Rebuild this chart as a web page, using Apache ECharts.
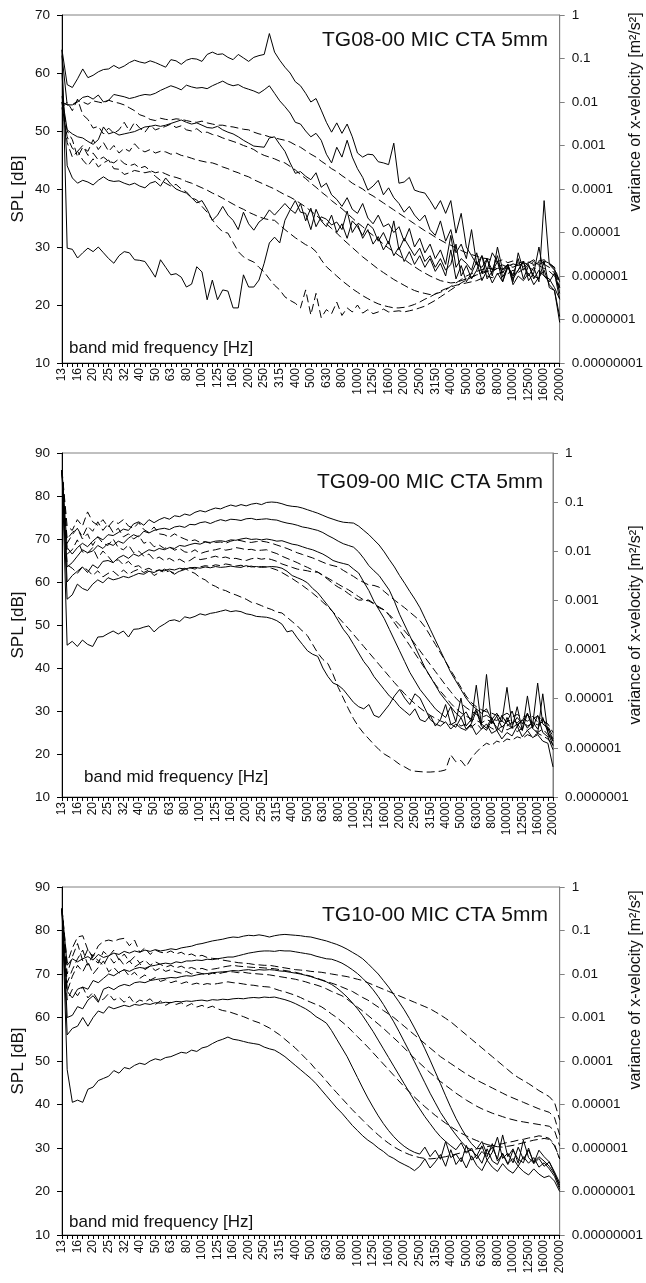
<!DOCTYPE html>
<html><head><meta charset="utf-8">
<script src="https://cdn.jsdelivr.net/npm/echarts/dist/echarts.min.js"></script>
<style>html,body{margin:0;padding:0;background:#fff}#c{width:646px;height:1283px}</style>
</head><body><div id="c"></div>
<script>
const bandLabels = ['13','16','20','25','32','40','50','63','80','100','125','160','200','250','315','400','500','630','800','1000','1250','1600','2000','2500','3150','4000','5000','6300','8000','10000','12500','16000','20000'];
const panelTitles = ['TG08-00 MIC CTA 5mm','TG09-00 MIC CTA 5mm','TG10-00 MIC CTA 5mm'];
const leftName = 'SPL [dB]';
const rightName = 'variance of x-velocity [m\u00B2/s\u00B2]';
const xName = 'band mid frequency [Hz]';

// ---------- Panel 1 (TG08) : SPL scale 10..70 ----------
const p1s1 = [64,58,57.5,59,60.7,59.2,59.6,60.2,60.6,60.7, 61.3,60.8,61.2,61.8,62.2,61.9,61.7,62.1,61.8,61.4, 61,62.3,62.1,61.5,62.2,62.5,62.4,62,63.2,63.6, 63.2,63.3,62.7,62.3,63.2,62.6,62,62.7,63,63.2, 66.8,63.6,62.2,61,60,58.5,57.8,56.5,55,55.6, 53.6,51.5,49.8,51.4,49.6,51.2,49,46.2,45.5,46, 45.9,44.7,44.5,44.2,47.9,41,41.2,42,39.8,39.5, 39.3,38,36.5,38,35.8,38,32.4,35.8,30,28.5, 27,28.5,26,29,27.5,25.5,27,24.5,26,27.5, 25,26.5,24,38,27,26,22];
const p1s2 = [63,54.5,54.5,55,55.8,56,55.5,56.2,55,55.3, 56.3,56.1,55.9,55.6,55.8,56.1,56.3,56.2,56.5,57, 57.4,57.8,57.5,57.1,57.9,57.6,57.4,57.5,57.3,57.8, 58.2,58.6,58.1,57.8,58,57.5,57.2,56.9,56.5,57.1, 57.8,56.5,55.2,54.2,53.1,51.5,51.2,50,49,49.6, 48.4,46,44.5,47.2,45.5,48.4,45.5,43.5,42,39.8, 40.5,41.5,39,40.2,38.5,37.5,36,37,35.5,34.5, 35.5,33,32,34.5,31,33,29,30.5,28,33, 27,26.5,28,25,30,26,27,24,29,26, 27,24.5,26,25,24,25.5,21];
const p1s3 = [56,50.2,49.5,49,48.8,48.2,47.7,48.5,50.7,49.5, 49.8,49.3,49.5,49.7,49.9,50.3,50.7,50.8,51,50.8, 51,51.3,51.6,51.9,51.5,51.2,51.4,51,50.6,50.5, 50.8,50.2,49.8,49.5,49,48.4,47.9,47.4,47.3,47.2, 48.8,49,47.7,46.5,44.5,42.7,43,42.2,41.6,42.8, 40.3,41,39,38.2,37,38.5,36.5,35.8,37.5,35, 34,35.5,33.5,34,32.5,33.5,31,33.2,30,31.5, 29,30.5,28,29.5,27,32,26.5,28,27.2,26, 29,25.5,27.8,26,28.5,24.8,26.5,25.2,28,24.5, 26.8,25,24.5,27.5,23,22.5,17];
const p1s4 = [60,44,41.9,41,41.5,41.2,40.7,41.5,42.1,41.5, 41.3,41.4,41,40.7,41,40.5,40.2,41,41.3,40.5, 41.9,40.8,40,39.6,39.3,38.5,37.6,38,36.5,34.6, 35.5,37,35.5,34.6,33,36,34,32.9,34.3,35, 36.4,35.5,36.5,37.5,36.5,35.8,37.5,34.5,36.7,33.5, 35.2,34.8,33.8,34.3,33,36.2,32.5,34,31.5,33, 30.5,31.8,29.5,31,28.5,30,27.5,29.2,27,28.5, 26.5,28,25.8,27.2,25,29.5,24.5,26.8,24,25.5, 27.5,24.2,26,23.8,25.5,24,27,23.5,25,24.2, 25.5,23.5,24.8,26,23.5,22.5,18];
const p1s5 = [64,29.8,29.6,28.1,29,29.8,29.2,30,29,28, 27.2,28.5,29.2,29,27.8,27.7,27.5,26.2,24.8,27.8, 26.5,25.2,25.4,24.8,23.1,23.6,26.6,25.7,20.9,24.3, 20.9,22.6,22.4,19.5,19.5,25.2,23.1,23.1,24.3,27.2, 30.7,31.7,30.7,34.6,36.4,38,36,35.8,33,36.5, 34.5,33.5,35.5,32.5,34,31.5,34.5,33.5,32,34, 33.2,31,32.5,30.5,34.5,29.5,31.5,30,28.5,29.8, 27.5,28.5,26.5,28,26,27,30.5,25,26.8,24.5, 26,28.5,24.5,25.8,27.5,24,26.5,25,26,27.5, 24.2,25.5,30,25,24.5,23,21];
const p1d1 = [55,54.5,54.5,55.2,55,54.6,55.2,55,54.8,55.3, 55,54.8,54.5,54,53.5,52.8,52.5,52,51.8,52.2, 52,51.9,52.1,52,51.8,51.6,51.5,51.7,51.4,51.2, 51,51,50.8,50.7,50.5,50.3,50.2,49.8,49.5,49.3, 49,48.8,48.6,48.4,48.1,47.6,47.2,46.6,46,45.5, 44.8,44.2,43.5,43,42.3,41.7,41,40.5,40,39.3, 38.8,38.2,37.6,37,36.4,35.8,35.2,34.6,34,33.4, 32.8,32.3,31.7,31.2,30.7,30.3,29.8,29.4,29,28.7, 28.4,28.1,28,27.7,27.5,27.8,27.3,27.6,27.2,27.5, 27.3,27.8,27,27.4,27.1,26.5,24];
const p1d2 = [54,55,53.5,55.5,52.8,52,50.5,50.8,49.5,50.5, 49.6,50.2,51.5,50,51.5,50.5,49.8,51,50.2,50.5, 50.8,51.2,50.6,50.9,50.2,50,50.4,49.7,49.8,49.4, 49.2,48.8,48.5,48.2,47.9,47.5,47.2,46.8,46.2,45.8, 45.5,45.2,44.8,44.5,43.9,43.3,42.5,41.8,41,40.3, 39.5,38.8,38,37.3,36.6,35.8,35,34.2,33.5,32.7, 32,31.3,30.5,29.8,29.2,28.5,27.9,27.2,26.6,26, 25.5,25,24.6,24.2,24,23.8,23.9,24.2,24.5,24.8, 25.2,25.4,25.8,26,26.3,26.5,26.8,27,26.8,27.2, 27.4,27,27.6,27.8,27.2,26.5,23];
const p1d3 = [55,50,48.5,45.5,47.2,46.5,48.5,46.8,48,46.5, 47.5,46.2,47,46.5,47.8,46.8,46.4,46.8,46.2,46.5, 46.4,46,46.2,45.8,45.6,45.3,45,44.8,44.6,44.5, 44.2,43.8,43.5,43.1,42.8,42.4,42.1,41.6,41.2,40.8, 40.4,40,39.5,39,38.6,38.1,37.5,36.9,36.2,35.5, 34.7,34,33.2,32.4,31.5,30.7,29.9,29.1,28.3,27.6, 26.9,26.2,25.6,25,24.4,23.9,23.4,22.9,22.5,22.2, 22,21.8,21.9,22.2,22.6,23.2,23.8,24.4,25,25.4, 25.8,26.1,26.4,26.2,26.6,26.9,26.5,27.1,26.8,27.3, 27,27.5,26.9,27.6,27.2,26.2,24];
const p1d4 = [55,48,45.5,46.5,45,44,45.2,43.8,44.5,45, 43.5,43.4,42.5,42.8,43.2,43,42.8,43,42.2,41.5, 41,40.5,40.8,40,39.5,38.5,38.1,37,36,34.7, 33.5,32.6,32.4,30.8,29.2,28.3,27.8,27.4,26.5,25.7, 24.5,23.4,22.6,21.4,20.8,20.3,19.5,22.6,18.3,22, 17.8,19.2,18.5,20.5,18.2,19.5,18.8,20,18.6,19.2, 18.5,18.8,19.3,18.8,18.9,19,18.8,19,19.2,19.5, 19.8,20.3,20.8,21.4,22,22.6,23.2,23.8,24.3,24.8, 25.2,25.6,26,25.7,26.4,26.2,26.8,26.5,27,26.6, 27.2,26.8,27.4,27,26.5,25.5,23];
const p1d5 = [54,49,47,46.5,47.5,45.8,46.2,45,45.5,44.8, 44.5,45.2,44.4,44,44.3,43.6,43.9,43.2,42.8,43, 42.6,42.2,42,41.7,41.3,41,40.6,40.2,39.8,39.3, 38.9,38.4,37.9,37.4,36.9,36.5,36,35.6,35.2,34.9, 34.7,34.6,33.8,33,32.3,31.6,31,30.4,30,29.2, 27.8,26.6,25.8,25,24.2,23.5,22.8,22.2,21.6,21.1, 20.6,20.2,19.9,19.7,19.5,19.5,19.6,19.8,20.1,20.5, 21,21.4,21.9,22.4,22.8,23.1,23.4,23.6,23.8,24, 24.2,24.6,25,24.7,25.3,25.8,25.4,26,25.6,26.2, 26.5,26,26.8,26.3,25.8,25,22.5];

// ---------- Panel 2 (TG09) : SPL scale 10..90 ----------
const p2s1 = [86,68,66.5,68,69,68.2,69.5,70.5,69.8,71, 70.8,71.5,72.3,72,73.5,74,73.2,74.5,73.8,74.5, 75,74.6,75.4,75.2,75.8,75.5,76.2,76.6,76.3,76.8, 77.2,77,77.5,77.9,77.6,78,77.7,78.1,78.3,78, 78.5,78.6,78.5,78.2,77.8,77.6,77.5,77.2,76.8,76.4, 76,75.5,75,74.6,74.2,73.9,73.8,73.7,73,72, 71,69.8,68.6,67,65.2,63.5,61.5,59.7,57.8,56, 54,51.5,49,46.5,44,41.5,39,37,35,33, 31.5,30.5,29.5,30.5,28,29.5,27.5,35.5,26.8,28.5, 27,29.5,26.5,36.5,27,26,23];
const p2s2 = [86,63.5,64.5,66,67.5,66.8,67.2,68.5,67.8,69, 68.5,69.5,69,70.2,71,70.5,71.8,71.4,72,72.3, 72.5,72.2,72.8,73,72.7,73.4,73.3,73.8,74,73.6, 74.1,74.5,74.2,74.6,74.5,74.3,74.7,74.8,74.5,74.6, 74.7,74.5,74.4,74,73.7,73.5,73.2,72.8,72.6,72.3, 72,71.5,70.8,70.2,69.5,68.9,68.5,68.1,67,65.5, 63.8,62.6,61.5,59.8,58.1,55.5,52.5,50,47.5,45, 42.5,40,38,36,34,32.5,31,29.5,28.5,29.8, 27.5,36,26.8,38.5,27,28.8,26.2,27.5,30,26.5, 28,26,27.5,25.8,28.5,25,22];
const p2s3 = [86,60,61.5,62.5,63.5,62.2,64,63.2,64.8,65, 64.5,65.6,66.2,65.5,66.5,66,66.8,67.5,67.2,67.8, 67.5,68,67.8,68.5,68.3,68.7,69,68.8,69.3,69.2, 69.5,69.6,69.4,69.8,69.7,70,70.2,69.9,70,69.8, 70,69.8,69.5,69.6,69.2,68.8,68.6,68.2,67.8,67.5, 67,66.5,65.8,65,64.6,64.3,64,63,62.1,60, 58,55.5,53.5,51.5,49,46.5,44,41.5,39,37, 35,33.5,32,30.5,29.5,28.5,31,27.5,33,26.5, 28,30.5,27,26,28.5,25.5,29,27,26,31, 25.5,33.5,26,29,25,24,21];
const p2s4 = [86,56,57,59.5,58.5,58,59.5,60.5,59.8,61, 60.5,60.8,61.3,61,61.5,62,61.8,62.5,62.2,62.8, 62.6,63,62.8,63.2,63,63.3,63.4,63.2,63.5,63.3, 63.6,63.4,63.5,63.7,63.5,63.4,63.8,63.5,63.6,63.4, 63.5,63.6,63.5,63.2,62.5,61.5,61,60.5,59.8,58.5, 57.5,56,54.5,53,51,49,47.5,45.5,43.5,41.5, 40,38,36.5,35,33.5,32.5,31,30,29,30.5, 28,27.5,29,26.5,28,31.5,27,26.2,28.5,25.8, 27,30,26.5,25.5,27.8,26.2,25,28.5,26,27, 25.5,29.5,26,24.8,34,25,23];
const p2s5 = [86,45.3,46.2,45,46.5,45.5,45,47.2,47.3,48, 48.6,47.9,48.6,47.2,49,49.1,49.5,49.8,48.4,49.5, 50.2,51,51.2,50.8,51.9,51.6,52,52.6,52.3,52.7, 52.9,53.2,53.5,53.1,53.3,53.1,52.6,52.4,52,51.9, 51.8,51.5,51,50.2,48.4,48.7,47,45.5,44,43.2, 42.7,40,38,36.5,36,35,33.5,32,31,30.5, 31.5,29,28.5,30,31.5,33.5,35,33,31.5,34, 33,30.5,28,27,26.5,27.5,25.8,27,26,25.5, 26.8,24.5,25.8,27,24.8,25.5,23.5,25,24.2,26.5, 24,25.5,23.8,24.5,23,22.5,17];
const p2d1 = [86,73,72,74.5,73,76.3,74,73.2,74.5,72.8, 74.2,73.6,74.5,73,72.5,73.8,72.2,71.5,72.8,71.2, 71,70.4,71.2,70.5,70,69.5,69.8,69.2,69.4,69, 69.2,69.3,69,69.5,69.8,69.6,69.3,69.2,69.4,69.5, 69.3,69,68.6,68.2,67.8,67.3,66.8,66.4,66,65.6, 65.1,64.6,64.1,63.8,63.5,62.7,62,61.3,60.5,59.9, 59.3,59.2,58.8,57.8,56.8,55.8,54.9,54,53,52, 51,49.5,47.5,45.5,43.5,41.5,39.5,37.5,35.5,33.5, 32,31,30.3,29.8,29.5,29,28.8,29.5,28.6,29.2, 28.5,29,28.2,28.8,27.8,27,25];
const p2d2 = [86,70,71.5,72.5,70.5,73,71.8,74,72,73.5, 71.5,72.5,70.5,71.2,70,70.8,69,69.5,68.2,68.6, 67.8,68.2,67.4,67.8,67,66.8,67.5,66.6,67,67.3, 67.5,67.8,67.4,67.6,68,67.8,67.5,67.6,67.3,67.4, 67.5,67,66.6,66,65.5,65,64.5,63.9,63.4,62.8, 62.3,61.6,60.9,60.2,59.5,58.8,58.2,57.4,56.6,55.8, 55.8,55,54.2,53.5,52.4,51.2,50,48.6,47.2,45.6, 44,42.4,40.8,39.2,37.6,36,34.5,33,31.8,30.8, 30,29.2,28.5,29,28.2,27.8,28.6,27.5,28,27.2, 28.4,27.6,28.8,27.4,28,26.5,24];
const p2d3 = [86,69,71,72.5,70,71.2,68.5,70.5,69,68.5, 70,68,67.5,68.6,66.8,67.2,66,66.5,65.2,65.8, 65,65.5,64.8,65.3,64.6,65,65.8,65.2,65.4,65.7, 66,65.6,65.8,65.4,65.5,65.2,65,65.4,65.6,65.3, 65.5,65.2,64.8,64.2,63.8,63.4,63,62.8,62.6,62.3, 62.3,61.5,60.6,59.6,58.8,58.2,57.3,56.5,55.8,55.8, 55.6,54.9,54,53.5,52.2,50.5,48.8,47,45.2,43.4, 41.6,39.8,38,36.2,34.6,33.2,31.8,30.6,29.6,28.8, 28.2,27.8,27.2,28,27.5,26.8,27.8,26.5,27.4,26.8, 27.8,26.5,27.2,26.8,27.5,26,23.5];
const p2d4 = [86,66.5,67.5,69.8,67,66.7,68,65.5,67.2,66, 64.5,65.2,64,64.8,63.5,63.8,62.8,63.2,62.5,62.8, 62.2,62.6,62,62.5,62.9,63.3,63,63.5,63.8,63.6, 64,63.8,64.2,64,63.7,63.9,63.5,63.7,63.4,63.6, 63.5,63.2,62.8,62.2,61.5,60.8,60,59.2,58.3,57.4, 56.4,55.3,54.2,53,51.8,50.5,49.2,47.8,46.4,45, 43.6,42.2,40.8,39.4,38,36.6,35.3,34,32.8,31.7, 30.7,29.8,29,28.3,27.7,27.2,26.8,27.5,26.5,27, 26.2,27.2,25.8,26.8,26,25.4,26.5,25.6,26.2,25.2, 26,25.5,26.4,25,25.8,24.5,22];
const p2d5 = [86,64,63.2,62,63.5,62.8,61.5,62.6,61.2,62, 62.5,61.5,62.8,61.8,62.5,63,62.2,62.8,61.5,62.2, 63,62.5,61.8,62.6,63.2,62.5,62,61,60.5,59.5, 59,58.3,58,57.4,57,56.5,56,55.3,55,54.5, 54,53.6,53,52.8,51.8,50.8,49.8,48.6,47.5,45.5, 43.5,42,41,38.5,35.5,33,30.5,28.2,26.3,24.8, 23.5,22.2,21,20,19.3,18.5,17.6,17,16.3,16, 15.9,15.8,15.8,15.9,16,16.3,19.8,18.2,18.5,17, 19,20.4,21.6,22.5,22,23,22.6,23.5,23.2,24, 23.6,24.5,24,24.8,24.2,23.5,22];

// ---------- Panel 3 (TG10) : SPL scale 10..90 ----------
const p3s1 = [85,72,73.5,72.8,73.5,74,73.2,74.5,73.8,74.2, 74.8,74.5,75.2,74.8,75.3,75,75.5,75.2,75.6,75.3, 75.5,75.8,75.6,76,76.2,76.4,76.8,77,77.3,77.6, 77.8,78,78.3,78.5,78.4,78.7,78.9,78.8,79,78.8, 78.5,78.8,79,79.1,79,78.9,78.8,78.6,78.5,78.2, 77.9,77.6,77.2,76.8,76.3,75.7,75,74.3,73.5,72.4, 71.2,70,68.5,67,65.3,63.6,61.8,59.8,57.6,55.3, 52.8,50.2,47.5,44.8,42,39.3,36.8,34.6,32.6,31, 29.8,31.5,28.5,30.2,27.5,33,28,29.8,26.5,31.8, 27.8,26.5,29.5,28,26.8,24.5,22];
const p3s2 = [85,66,64.5,66.5,67,66.5,68.5,68,69,70, 69.6,70.4,71,70.6,71.2,71.5,71.3,71.8,72,72.3, 72.5,72.3,72.8,72.6,73,73,73.2,73.1,73.4,73.3, 73.5,73.7,73.9,73.9,74.2,74.5,74.8,75,75.2,75.3, 75.3,75.2,75.4,75.3,75.3,75.1,74.9,74.7,74.5,74.1, 73.8,73.5,73.4,73,72.5,71.8,71,70.1,69,67.8, 66.4,64.8,63,61,59,56.8,54.5,52.2,49.8,47.4, 45,42.6,40.4,38.2,36.4,34.6,33,31.5,30.2,29.5, 28.2,30.5,27.2,29,32.5,27.6,28.8,26.6,30.2,27.4, 29.5,26.8,28,27,25.8,24,21.5];
const p3s3 = [85,60,60.5,62.5,62,64,65,63.5,66.5,67, 66.4,67.2,67.6,67.3,68,68.2,68,68.5,68.7,68.9, 69,69.2,69.1,69.4,69.6,69.5,69.8,70,70.1,70.3, 70.4,70.5,70.6,70.8,70.7,70.9,71,70.8,71,70.9, 71,70.9,70.7,70.6,70.4,70.2,70,69.7,69.4,69, 68.6,68.2,67.6,66.8,65.8,64.7,63.4,62,60.4,58.6, 56.8,54.8,52.8,50.8,48.8,46.8,44.8,42.8,40.8,39, 37.2,35.6,34,32.6,31.5,30.5,29.6,31.2,28.8,30, 27.5,29.2,28,31,27,28.6,26.2,29.5,27.4,26.6, 30,26.4,27.6,25.8,26.8,24.2,21];
const p3s4 = [85,56,57.5,58,60,58,60,61.5,61,62.5, 62,62.4,62.8,62.5,63,62.8,63.2,63,63.4,63.3, 63.5,63.4,63.7,63.6,63.8,63.7,63.9,64,63.8,64.1, 64,64.2,64.1,64.3,64.4,64.3,64.5,64.6,64.5,64.7, 64.6,64.7,64.4,64.1,63.7,63.2,62.6,62,61.2,60.2, 59.5,58.7,57,55,53,51,48.6,46.2,43.8,41.5, 39.4,37.4,35.6,34,32.6,31.4,30.4,29.6,29,28.6, 30.2,28,29.5,27.4,31.5,27.8,28.6,26.8,30.6,27.2, 28.4,26.5,29.8,27,26.2,28.8,26.4,27.6,25.8,28, 26.5,27.8,25.6,26.6,25.2,23.5,20.5];
const p3s5 = [85,48,40.5,41,40.5,43.5,44,45.5,46,46.5, 47.8,47.2,48.5,48.2,49,49.5,49.2,50,50.5,50.2, 50.8,51,51.5,52,51.8,52.5,52.2,53,53.3,54, 54.6,55,55.5,55,54.8,54.5,54.2,54,53.8,53.2, 52.8,52.5,51.8,51,50,49,48,47,46,44.8, 43.4,42,40.6,39.2,38,36.6,35.2,34,32.8,31.8, 31,30,29.2,28.2,27.6,26.8,26.2,25.6,24.8,25.8, 27.5,25.4,26.8,28.5,25.8,29.6,26.2,27.8,25.4,28.2, 26,24.8,27.2,25.6,24.6,26.4,25,24.2,25.8,24.6, 23.8,25.2,24,23.2,23.6,22.4,20];
const p3d1 = [85,72.5,76,78.5,78.8,75.5,74,76.5,77.5,77.8, 77.5,78,78.2,76.5,77.8,75,76,74.5,75.5,75, 74.8,75.3,74.6,75,74.3,74.6,74,74.3,73.8,73.6, 73.5,73.2,73,72.8,72.6,72.5,72.4,72.2,72.1,72, 72,71.8,71.6,71.4,71.2,71,70.9,70.8,70.6,70.5, 70.4,70.2,70,69.8,69.6,69.4,69.1,68.8,68.5,68, 67.5,67,66.5,66,65.5,65,64.5,64,63.5,63, 62.5,62,61.3,60.6,59.8,59,58,57,56,55, 54,53,52,51,50,49,48,47,46.2,45.5, 44.8,44,43.2,42.5,41.8,40.5,36.5];
const p3d2 = [85,70,74,77,73,75.8,73.5,72.5,75.2,74, 75.5,73.2,74.6,72.8,74,72.5,73.2,72,72.8,72.2, 71.6,72,71.4,71.8,71.2,71.5,71,71.3,70.9,71.1, 71.3,71.6,71.8,72,71.8,71.7,71.6,71.5,71.5,71.4, 71.3,71.2,71,70.8,70.6,70.4,70.1,69.8,69.5,69.1, 68.7,68.3,67.9,67.5,67,66.5,66,65.3,64.6,64, 63.2,62.4,61.6,60.8,60,59,58,57,56,55, 54,53,52,51,50.2,49.4,48.6,47.8,47,46.3, 45.6,45,44.4,43.8,43.2,42.6,42,41.5,41,40.5, 40,39.5,39,38.6,38.2,37,33];
const p3d3 = [85,68,71,73.5,75.5,72,74.5,73,72,74.2, 72.5,73.6,72,73,71.6,72.4,71,71.8,70.8,71.4, 70.6,71,70.5,70.2,70.6,70,70.4,70.1,69.8,70.2, 70,70.3,70.5,70.5,70.3,70.4,70.2,70.1,70,69.9, 69.8,69.6,69.4,69.2,69,68.8,68.5,68.2,67.8,67.5, 67.1,66.6,66,65.5,65,64.2,63.3,62.4,61.5,60.5, 59.5,58.5,57.5,56.4,55.3,54.2,53,51.8,50.6,49.5, 48.4,47.3,46.3,45.3,44.4,43.5,42.6,41.8,41,40.3, 39.6,39,38.5,38,37.6,37.2,36.8,36.5,36.2,36, 35.8,35.6,35.4,35.2,35,34,30.5];
const p3d4 = [85,66,69.5,72,70.5,72.8,70,71.5,73,70.5, 71.5,70.2,71,69.5,70.4,69,69.8,68.6,69.2,68.3, 68.7,68,68.4,67.8,68.2,67.6,67.9,67.5,67.8,67.6, 67.8,68,68.2,68,67.9,67.7,67.5,67.4,67.2,67.1, 67,66.6,66.2,65.9,65.5,65.1,64.6,64,63.5,63, 62.5,61.7,60.8,60,59,58,56.8,55.6,54.4,53.2, 51.9,50.6,49.3,48,46.7,45.4,44.1,42.9,41.7,40.6, 39.5,38.5,37.5,36.6,35.7,34.9,34.1,33.4,32.8,32.2, 31.7,31.2,30.8,30.5,30.3,30.2,30.4,30.6,30.9,31.2, 31.5,31.8,32,32.2,32,30.5,27.5];
const p3d5 = [85,64,66.5,65,67,64.5,65.8,63.8,64.2,65.5, 64,64.6,63.5,64.8,63.2,64,63.6,64.3,63,63.8, 62.8,63.5,63,63.4,62.6,63.2,62.4,62.8,62.2,62.6, 62,61.6,61.4,61,60.6,60.2,59.7,59.2,58.8,58.2, 57.6,56.8,56,55,54,53,51.8,50.6,49.4,48, 46.8,45.4,44,42.7,41.4,40.1,38.8,37.6,36.4,35.2, 34.1,33,32,31.1,30.3,29.6,29,28.5,28.1,27.8, 27.6,27.5,27.6,27.8,28,28.3,28.6,28.9,29.2,29.5, 29.8,30,30.3,30.5,30.8,31,31.3,31.5,31.8,32, 32.3,32.5,32.8,32.6,32.2,30.8,27.5];

const FONT = '"Liberation Sans", Arial, Helvetica, sans-serif';
const panels = [
  {solid:[p1s1,p1s2,p1s3,p1s4,p1s5], dashed:[p1d1,p1d2,p1d3,p1d4,p1d5], yMin:10, yMax:70, logMin:1e-8},
  {solid:[p2s1,p2s2,p2s3,p2s4,p2s5], dashed:[p2d1,p2d2,p2d3,p2d4,p2d5], yMin:10, yMax:90, logMin:1e-7},
  {solid:[p3s1,p3s2,p3s3,p3s4,p3s5], dashed:[p3d1,p3d2,p3d3,p3d4,p3d5], yMin:10, yMax:90, logMin:1e-8}
];
const layout = [
  {left:62, top:15, width:498, height:348, titleX:548, titleY:40, bandX:69, bandY:348, splY:189, varY:112},
  {left:62, top:453, width:491, height:344, titleX:543, titleY:482, bandX:84, bandY:777, splY:625, varY:625},
  {left:62, top:887, width:498, height:348, titleX:548, titleY:915, bandX:69, bandY:1222, splY:1061, varY:990}
];

const cats = [];
bandLabels.forEach((b, k) => { cats.push(b); if (k < bandLabels.length - 1) { cats.push(b + '\u2009a'); cats.push(b + '\u2009b'); } });

function logFmt(v) {
  const e = Math.round(Math.log10(v));
  if (e >= 0) return '1';
  return '0.' + '0'.repeat(-e - 1) + '1';
}

const grid = [], xAxis = [], yAxis = [], series = [], graphic = [];
panels.forEach((p, k) => {
  const L = layout[k];
  grid.push({left:L.left, top:L.top, width:L.width, height:L.height, show:true, borderColor:'#808080', borderWidth:1, backgroundColor:'transparent'});
  xAxis.push({type:'category', gridIndex:k, data:cats, boundaryGap:false,
    axisLine:{show:true, lineStyle:{color:'#000', width:1}},
    axisTick:{show:true, interval:0, length:4, lineStyle:{color:'#000'}},
    axisLabel:{interval:2, rotate:90, fontSize:12, margin:5, color:'#111', fontFamily:FONT},
    splitLine:{show:false}});
  yAxis.push({type:'value', gridIndex:k, min:p.yMin, max:p.yMax, interval:10, position:'left',
    axisLine:{show:true, lineStyle:{color:'#000', width:1}},
    axisTick:{show:true, length:5, lineStyle:{color:'#000'}},
    axisLabel:{fontSize:13.5, color:'#111', margin:12, fontFamily:FONT},
    splitLine:{show:false}});
  yAxis.push({type:'log', logBase:10, gridIndex:k, min:p.logMin, max:1, position:'right', splitNumber: Math.round(-Math.log10(p.logMin)),
    axisLine:{show:true, lineStyle:{color:'#808080', width:1}},
    axisTick:{show:true, length:5, lineStyle:{color:'#808080'}},
    axisLabel:{fontSize:13.5, color:'#111', margin:12, fontFamily:FONT, formatter:logFmt},
    splitLine:{show:false}, minorTick:{show:false}});
  p.dashed.forEach(d => series.push({type:'line', xAxisIndex:k, yAxisIndex:2*k, data:d, symbol:'none', showSymbol:false, silent:true,
    lineStyle:{color:'#000', width:1, type:[8,4]}, emphasis:{disabled:true}}));
  p.solid.forEach(d => series.push({type:'line', xAxisIndex:k, yAxisIndex:2*k, data:d, symbol:'none', showSymbol:false, silent:true,
    lineStyle:{color:'#000', width:1, type:'solid'}, emphasis:{disabled:true}}));
  graphic.push({type:'text', x:L.titleX, y:L.titleY, style:{text:panelTitles[k], font:'21px ' + FONT, fill:'#111', align:'right', verticalAlign:'middle', textAlign:'right', textVerticalAlign:'middle'}});
  graphic.push({type:'text', x:L.bandX, y:L.bandY, style:{text:xName, font:'17px ' + FONT, fill:'#111', align:'left', verticalAlign:'middle', textAlign:'left', textVerticalAlign:'middle'}});
  graphic.push({type:'text', x:18, y:L.splY, rotation:Math.PI/2, style:{text:leftName, font:'17px ' + FONT, fill:'#111', align:'center', verticalAlign:'middle', textAlign:'center', textVerticalAlign:'middle'}});
  graphic.push({type:'text', x:636, y:L.varY, rotation:Math.PI/2, style:{text:rightName, font:'16px ' + FONT, fill:'#111', align:'center', verticalAlign:'middle', textAlign:'center', textVerticalAlign:'middle'}});
});

const chart = echarts.init(document.getElementById('c'), null, {renderer:'canvas'});
chart.setOption({animation:false, backgroundColor:'#fff', textStyle:{fontFamily:FONT}, grid, xAxis, yAxis, series, graphic});
</script>
</body></html>
